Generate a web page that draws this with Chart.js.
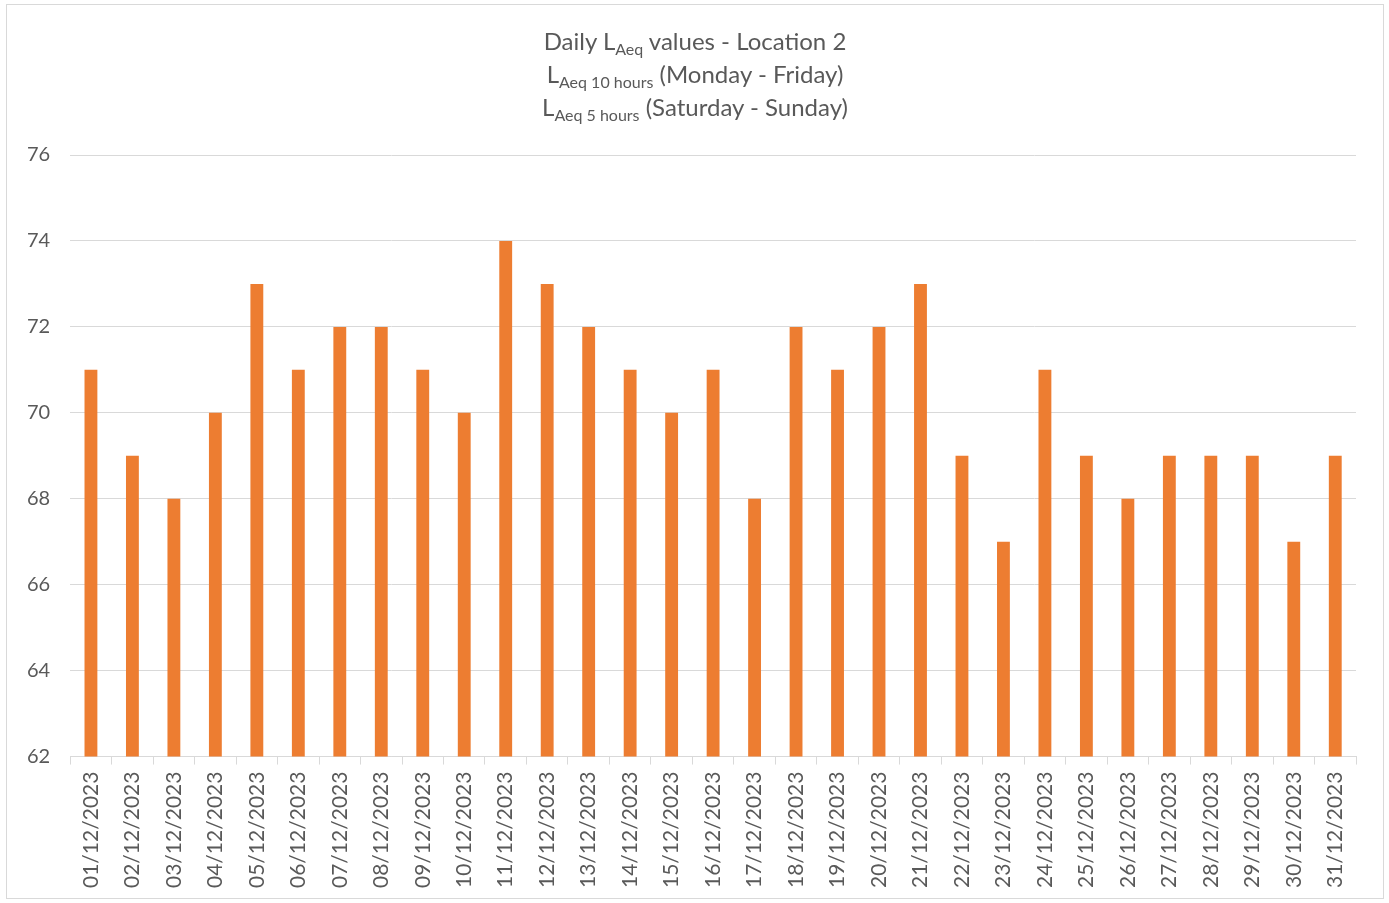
<!DOCTYPE html>
<html>
<head>
<meta charset="utf-8">
<script src="https://cdn.jsdelivr.net/npm/chart.js@4.4.1/dist/chart.umd.min.js"></script>
<style>
  body { margin: 0; background: #fff; font-family: Lato, "Open Sans", sans-serif; }
  #frame { position: absolute; left: 6px; top: 4px; width: 1378px; height: 895px; border: 1px solid #d9d9d9; box-sizing: border-box; }
  #title { position: absolute; left: 0; right: 0; top: 19px; text-align: center; color: #595959; font-size: 24px; line-height: 33px; }
  #title sub { font-size: 16px; vertical-align: -5px; line-height: 0; }
  #wrap { position: absolute; left: 0; top: 0; width: 1376px; height: 893px; }
</style>
</head>
<body>
<div id="frame">
  <div id="wrap"><canvas id="laeq"></canvas></div>
  <div id="title">
    Daily L<sub>Aeq</sub> values - Location 2<br>
    L<sub>Aeq 10 hours</sub> (Monday - Friday)<br>
    L<sub>Aeq 5 hours</sub> (Saturday - Sunday)
  </div>
</div>
<script>
// days of December 2023
var days = ["01/12/2023", "02/12/2023", "03/12/2023", "04/12/2023", "05/12/2023", "06/12/2023",
    "07/12/2023", "08/12/2023", "09/12/2023", "10/12/2023", "11/12/2023", "12/12/2023",
    "13/12/2023", "14/12/2023", "15/12/2023", "16/12/2023", "17/12/2023", "18/12/2023",
    "19/12/2023", "20/12/2023", "21/12/2023", "22/12/2023", "23/12/2023", "24/12/2023",
    "25/12/2023", "26/12/2023", "27/12/2023", "28/12/2023", "29/12/2023", "30/12/2023", "31/12/2023"];
var laeqValues = [71, 69, 68, 70, 73, 71, 72, 72, 71, 70, 74, 73, 72, 71, 70, 71,
    68, 72, 71, 72, 73, 69, 67, 71, 69, 68, 69, 69, 69, 67, 69];
var yMin = 62, yMax = 76, yStep = 2;

Chart.defaults.font.family = "Lato, 'Open Sans', sans-serif";
Chart.defaults.color = "#595959";

new Chart("laeq", {
    type: "bar",
    data: {
        labels: days,
        datasets: [{
            data: laeqValues,
            backgroundColor: "#ed7d31",
            barPercentage: 0.62,
            categoryPercentage: 0.5
        }]
    },
    options: {
        responsive: true,
        maintainAspectRatio: false,
        animation: false,
        layout: { padding: { top: 150, right: 27, left: 0, bottom: 3 } },
        plugins: { legend: { display: false }, title: { display: false }, tooltip: { enabled: false } },
        scales: {
            x: {
                grid: { drawOnChartArea: false, color: "#d9d9d9", tickLength: 8, offset: true },
                border: { color: "#d9d9d9", width: 1 },
                ticks: { minRotation: 90, maxRotation: 90, autoSkip: false, font: { size: 21 }, padding: 7 }
            },
            y: {
                min: yMin,
                max: yMax,
                grid: { color: "#d9d9d9", drawTicks: false },
                border: { display: false },
                ticks: { stepSize: yStep, font: { size: 20 }, padding: 20 }
            }
        }
    }
});
</script>
</body>
</html>
